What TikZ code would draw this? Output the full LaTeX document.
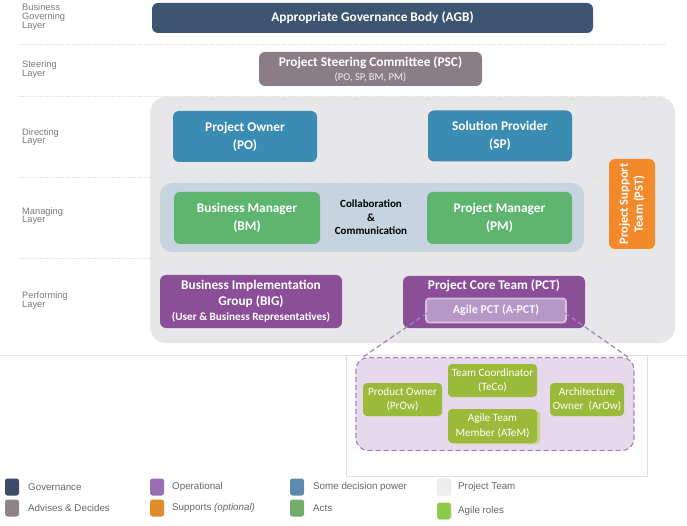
\documentclass[tikz,border=0pt]{standalone}
\usepackage{fontspec}
\setmainfont{Carlito}
\newfontfamily\lblfont{Liberation Sans}
\usetikzlibrary{calc}
\definecolor{govblue}{HTML}{3D5570}
\definecolor{steer}{HTML}{8B7D86}
\definecolor{teamgray}{HTML}{E7E7E9}
\definecolor{direct}{HTML}{3A8CB3}
\definecolor{managebg}{HTML}{C5D4DF}
\definecolor{manage}{HTML}{5DB56F}
\definecolor{support}{HTML}{F28A2C}
\definecolor{perform}{HTML}{8B4F98}
\definecolor{apct}{HTML}{B697C5}
\definecolor{apctline}{HTML}{D6C2DF}
\definecolor{agilebg}{HTML}{E6D9EB}
\definecolor{agiledash}{HTML}{A880BE}
\definecolor{agile}{HTML}{9BBA3A}
\definecolor{agileshade}{HTML}{C3D68A}
\definecolor{lgov}{HTML}{3E4A6B}
\definecolor{ladv}{HTML}{8D8288}
\definecolor{lop}{HTML}{9B6DB3}
\definecolor{lsup}{HTML}{E08C2A}
\definecolor{ldec}{HTML}{5F8AB0}
\definecolor{lact}{HTML}{72AD6C}
\definecolor{lteam}{HTML}{EDEDEE}
\definecolor{lagile}{HTML}{8DCB47}
\definecolor{labelgray}{HTML}{7A7A7A}
\begin{document}
\begin{tikzpicture}[x=1pt,y=-1pt,
  role/.style={rounded corners=6pt, text=white, align=center, inner sep=0pt,
    font=\bfseries\fontsize{13.3}{18}\selectfont},
  agilerole/.style={rounded corners=4pt, fill=agile, text=white, align=center,
    inner sep=0pt, font=\fontsize{11.2}{14.5}\selectfont},
  layer/.style={anchor=west, align=left, text=labelgray, inner sep=0pt,
    font=\lblfont\fontsize{9.3}{8.8}\selectfont},
  sep/.style={draw=black!12, densely dotted, line width=0.8pt},
  swatch/.style={rounded corners=2.5pt, minimum width=14pt, minimum height=17pt, inner sep=0pt},
  legtext/.style={anchor=west, text=black!60, inner sep=0pt,
    font=\lblfont\fontsize{9.8}{11}\selectfont},
  zoomline/.style={draw=agiledash, dashed, dash pattern=on 5pt off 3pt, line width=1.2pt}]
\useasboundingbox (0,0) rectangle (687,526);
\fill[white] (0,0) rectangle (687,526);

% layer labels
\node[layer] (lbus) at (22,17) {Business\\Governing\\Layer};
\node[layer] (lste) at (22,69.5) {Steering\\Layer};
\node[layer] (ldir) at (22,137) {Directing\\Layer};
\node[layer] (lman) at (22,216) {Managing\\Layer};
\node[layer] (lper) at (22,300.5) {Performing\\Layer};

% layer separators (upper)
\draw[sep] (18,44) -- (665,44);
\draw[sep] (18,96) -- (665,96);

% governance and steering
\node[role, fill=govblue, minimum width=441pt, minimum height=30pt] (agb) at (372.5,18)
  {Appropriate Governance Body (AGB)};
\node[role, fill=steer, minimum width=223pt, minimum height=34pt, font=\bfseries\fontsize{13.3}{15}\selectfont] (psc) at (370.5,69)
  {Project Steering Committee (PSC)\\[-1pt]{\mdseries\fontsize{10.5}{11}\selectfont\color{white!88!steer}(PO, SP, BM, PM)}};

% project team panel
\node[fill=teamgray, rounded corners=16pt, minimum width=525pt, minimum height=246pt, inner sep=0pt] (team) at (412.5,220) {};

% layer separators crossing the panel
\draw[sep] (18,177) -- (606,177);
\draw[sep] (18,258) -- (606,258);

% directing layer
\node[role, fill=direct, minimum width=144pt, minimum height=51pt] (po) at (245,136.5) {Project Owner\\(PO)};
\node[role, fill=direct, minimum width=144pt, minimum height=51pt] (sp) at (500,136) {Solution Provider\\(SP)};

% project support team
\node[role, fill=support, minimum width=90pt, minimum height=46pt, rotate=90,
  font=\bfseries\fontsize{12.5}{15}\selectfont] (pst) at (632,204) {Project Support\\Team (PST)};

% managing layer
\node[fill=managebg, rounded corners=12pt, minimum width=424pt, minimum height=69pt, inner sep=0pt] (mgr) at (372,217.5) {};
\node[role, fill=manage, minimum width=146pt, minimum height=52pt] (bm) at (247,218) {Business Manager\\(BM)};
\node[role, fill=manage, minimum width=145pt, minimum height=52pt] (pm) at (499.5,218) {Project Manager\\(PM)};
\node[align=center, inner sep=0pt, font=\bfseries\fontsize{11}{13.5}\selectfont] (collab) at (371,217.5)
  {Collaboration\\\&\\Communication};

% performing layer
\node[role, fill=perform, minimum width=182pt, minimum height=53pt, font=\bfseries\fontsize{13.3}{16}\selectfont] (big) at (251,301.5)
  {Business Implementation\\Group (BIG)\\[-1pt]{\fontsize{11.2}{12}\selectfont(User \& Business Representatives)}};
\node[role, fill=perform, minimum width=182pt, minimum height=52pt] (pct) at (494,302) {};
\node[text=white, inner sep=0pt, font=\bfseries\fontsize{13.3}{15}\selectfont] (pcttitle) at (494,285.5) {Project Core Team (PCT)};
\node[fill=apct, draw=apctline, line width=1.6pt, rounded corners=3pt, minimum width=140pt, minimum height=24pt,
  text=white!92!apct, inner sep=0pt, font=\bfseries\fontsize{12}{13}\selectfont] (apctbox) at (496,310.5) {Agile PCT (A-PCT)};

% agile roles detail panel
\draw[black!10, line width=0.8pt] (0,355) -- (346,355);
\draw[black!10, line width=0.8pt] (647,355) -- (687,355);
\node[draw=black!12, line width=0.8pt, minimum width=301pt, minimum height=121pt, inner sep=0pt, anchor=north west] (detail) at (346,355) {};
\node[fill=agilebg, draw=agiledash, dashed, dash pattern=on 5pt off 3pt, line width=1.2pt, rounded corners=12pt,
  minimum width=278pt, minimum height=93pt, inner sep=0pt] (agileteam) at (495,404) {};
\coordinate (zl0) at (427,313);
\coordinate (zl1) at (363,357);
\coordinate (zr0) at (565,313);
\coordinate (zr1) at (628,357);
\draw[zoomline] (zl0) -- (zl1);
\draw[zoomline] (zr0) -- (zr1);

\node[agilerole, minimum width=79pt, minimum height=33pt] (prow) at (402.5,399.5) {Product Owner\\(PrOw)};
\node[agilerole, minimum width=89pt, minimum height=33pt] (teco) at (492.5,380.5) {Team Coordinator\\(TeCo)};
\fill[agileshade, rounded corners=4pt] (450,411) rectangle (540,444);
\node[agilerole, minimum width=89pt, minimum height=34pt] (atem) at (492.5,426) {Agile Team\\Member (ATeM)};
\node[agilerole, minimum width=74pt, minimum height=33pt] (arow) at (587,399.5) {Architecture\\Owner\ \ (ArOw)};

% legend
\node[swatch, fill=lgov] (sgov) at (12,487) {};
\node[legtext] (tgov) at (28,487) {Governance};
\node[swatch, fill=ladv] (sadv) at (12,508) {};
\node[legtext] (tadv) at (28,508) {Advises \& Decides};
\node[swatch, fill=lop] (sop) at (157,487) {};
\node[legtext] (top) at (172,487) {Operational};
\node[swatch, fill=lsup] (ssup) at (157,508) {};
\node[legtext] (tsup) at (172,508) {Supports \textit{(optional)}};
\node[swatch, fill=ldec] (sdec) at (297,487) {};
\node[legtext] (tdec) at (313,487) {Some decision power};
\node[swatch, fill=lact] (sact) at (297,508) {};
\node[legtext] (tact) at (313,508) {Acts};
\node[swatch, fill=lteam, draw=black!8] (steam) at (444,487) {};
\node[legtext] (tteam) at (458,487) {Project Team};
\node[swatch, fill=lagile, draw=black!8] (sagile) at (444,511) {};
\node[legtext] (tagile) at (458,511) {Agile roles};
\end{tikzpicture}
\end{document}
